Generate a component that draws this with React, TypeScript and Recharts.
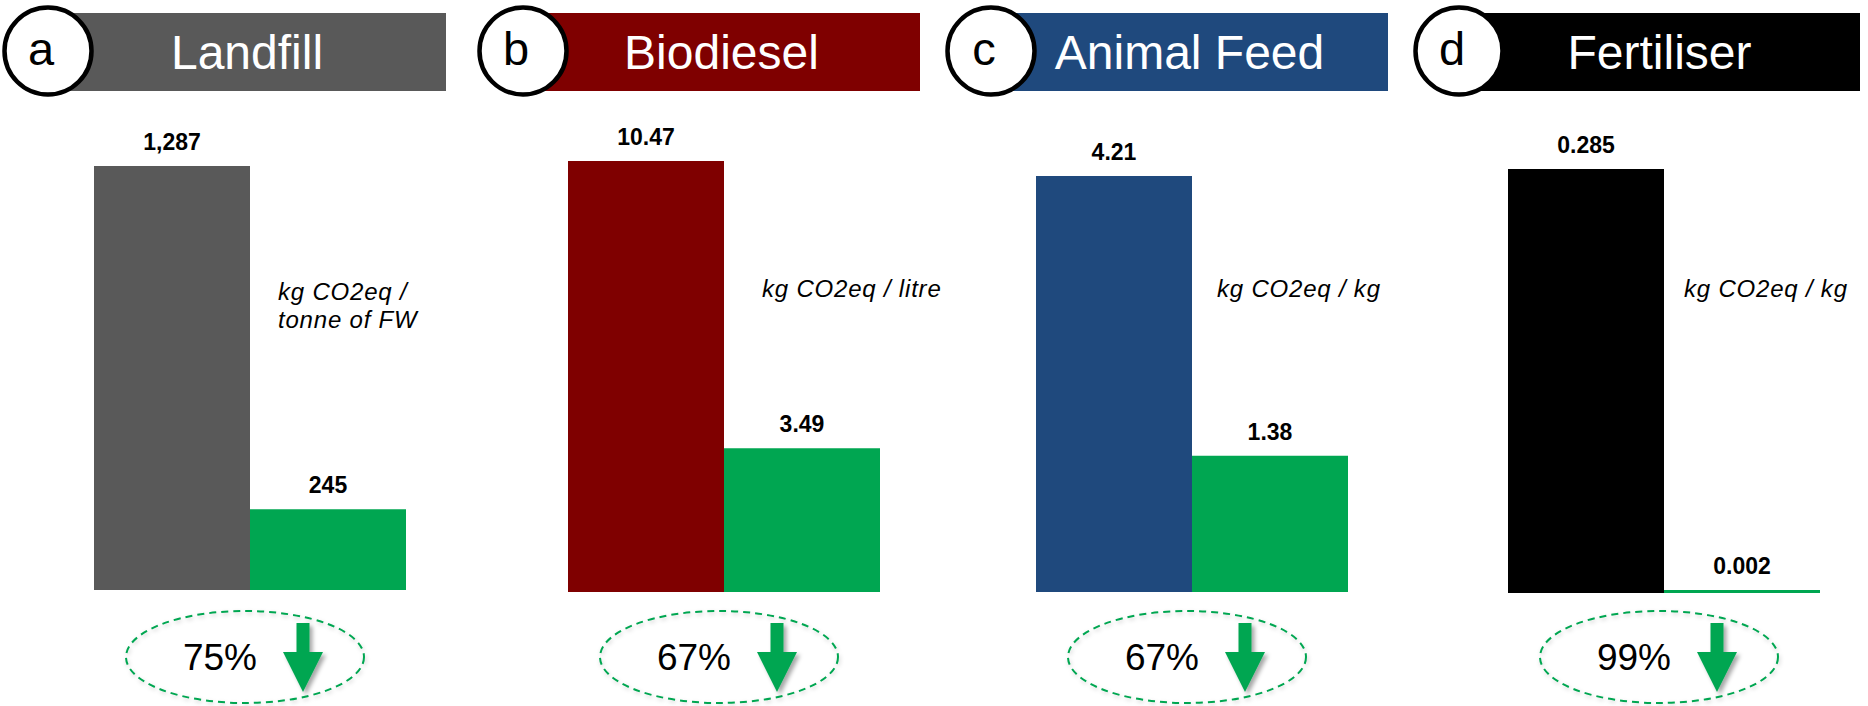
import React from "react";
import { BarChart, Bar, XAxis, YAxis, Cell, LabelList } from "recharts";

// ---- data ----
const panelLetters = ["a", "b", "c", "d"];
const panelTitles = ["Landfill", "Biodiesel", "Animal Feed", "Fertiliser"];
const categories = ["Conventional", "Alternative"];
const conventionalValues = [1287, 10.47, 4.21, 0.285];
const alternativeValues = [245, 3.49, 1.38, 0.002];
const conventionalLabels = ["1,287", "10.47", "4.21", "0.285"];
const alternativeLabels = ["245", "3.49", "1.38", "0.002"];
const unitLabels = [
  ["kg CO2eq /", "tonne of FW"],
  ["kg CO2eq / litre"],
  ["kg CO2eq / kg"],
  ["kg CO2eq / kg"],
];
const reductionLabels = ["75%", "67%", "67%", "99%"];

// ---- styles / layout ----
const headerColors = ["#595959", "#7F0000", "#1F497D", "#000000"];
const greenColor = "#00A651";
const FONT = "'Liberation Sans', Arial, Helvetica, sans-serif";

const barLeft = [94, 568, 1036, 1508];
const barTop = [166, 161, 176, 169];
const barBottom = [590, 592, 592, 593];
const unitOffsetX = [184, 194, 181, 176];
const circleOffsetX = [-46, -45, -45, -49];
const BAR_W = 156;
const W = 1868;
const H = 706;

function Panel({ i }: { i: number }) {
  const data = [
    { name: categories[0], value: conventionalValues[i], label: conventionalLabels[i] },
    { name: categories[1], value: alternativeValues[i], label: alternativeLabels[i] },
  ];
  const colors = [headerColors[i], greenColor];
  return (
    <div style={{ position: "absolute", left: barLeft[i], top: 0 }}>
      <BarChart
        width={BAR_W * 2}
        height={H}
        data={data}
        margin={{ top: barTop[i], bottom: H - barBottom[i], left: 0, right: 0 }}
        barCategoryGap={0}
        style={{ overflow: "visible" }}
      >
        <XAxis dataKey="name" hide />
        <YAxis hide domain={[0, "dataMax"]} />
        <Bar dataKey="value" isAnimationActive={false}>
          {data.map((d, k) => (
            <Cell key={k} fill={colors[k]} />
          ))}
          <LabelList
            dataKey="label"
            position="top"
            offset={16}
            fill="#000"
            fontSize={23}
            fontWeight={700}
            fontFamily={FONT}
          />
        </Bar>
      </BarChart>
    </div>
  );
}

function Decorations() {
  return (
    <svg
      width={W}
      height={H}
      style={{ position: "absolute", left: 0, top: 0, pointerEvents: "none" }}
    >
      <defs>
        <filter id="arrowShadow" x="-50%" y="-50%" width="200%" height="200%">
          <feDropShadow dx="3" dy="3" stdDeviation="2" floodColor="#000" floodOpacity="0.35" />
        </filter>
        <filter id="ellShadow" x="-20%" y="-30%" width="140%" height="160%">
          <feDropShadow dx="1" dy="2" stdDeviation="2" floodColor="#000" floodOpacity="0.2" />
        </filter>
      </defs>
      {panelTitles.map((title, i) => {
        const B = barLeft[i];
        const cx = B + circleOffsetX[i];
        const rectX = cx;
        const rectR = B + 352;
        const ex = B + 151;
        const ax = B + 209;
        const unitX = B + unitOffsetX[i];
        const lines = unitLabels[i];
        const unitBase = lines.length > 1 ? 300 : 297;
        return (
          <g key={i}>
            <rect x={rectX} y={13} width={rectR - rectX} height={78} fill={headerColors[i]} />
            <text
              x={(rectX + rectR) / 2}
              y={69}
              textAnchor="middle"
              fill="#fff"
              fontSize={48}
              fontFamily={FONT}
            >
              {title}
            </text>
            <circle cx={cx} cy={51} r={43.5} fill="#fff" stroke="#000" strokeWidth={4.5} />
            <text
              x={cx - 7}
              y={65}
              textAnchor="middle"
              fill="#000"
              fontSize={47}
              fontFamily={FONT}
            >
              {panelLetters[i]}
            </text>
            {lines.map((ln, k) => (
              <text
                key={k}
                x={unitX}
                y={unitBase + k * 28}
                fill="#000"
                fontSize={24}
                fontStyle="italic"
                letterSpacing={0.8}
                fontFamily={FONT}
              >
                {ln}
              </text>
            ))}
            <ellipse
              cx={ex}
              cy={657}
              rx={119}
              ry={46}
              fill="none"
              stroke={greenColor}
              strokeWidth={2}
              strokeDasharray="7 5"
              filter="url(#ellShadow)"
            />
            <text
              x={B + 126}
              y={670}
              textAnchor="middle"
              fill="#000"
              fontSize={37}
              fontFamily={FONT}
            >
              {reductionLabels[i]}
            </text>
            <path
              d={`M ${ax - 6.5} 623 L ${ax + 6.5} 623 L ${ax + 6.5} 652 L ${ax + 20} 652 L ${ax} 692 L ${ax - 20} 652 L ${ax - 6.5} 652 Z`}
              fill={greenColor}
              filter="url(#arrowShadow)"
            />
          </g>
        );
      })}
    </svg>
  );
}

export default function App() {
  return (
    <div style={{ position: "relative", width: W, height: H, background: "#fff", fontFamily: FONT }}>
      <style>{`body{margin:0;}`}</style>
      {panelTitles.map((_, i) => (
        <Panel key={i} i={i} />
      ))}
      <Decorations />
    </div>
  );
}
